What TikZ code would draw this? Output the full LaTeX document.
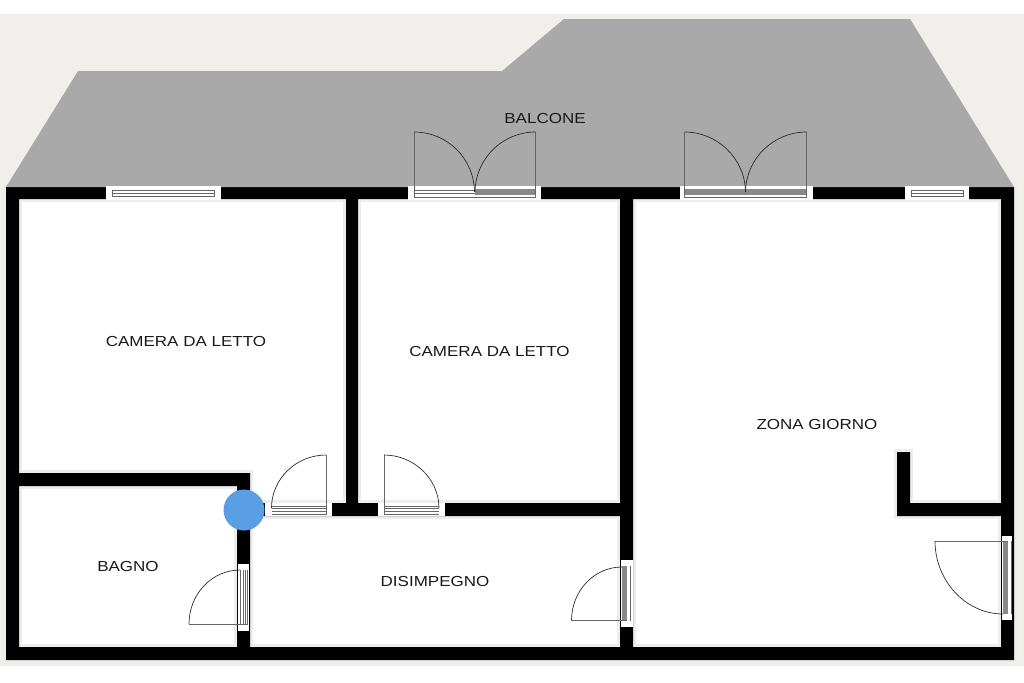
\documentclass[tikz,border=0pt]{standalone}
\usepackage{fontspec}
\setmainfont{Liberation Sans}[FakeStretch=1.17]
\definecolor{plotbg}{HTML}{F0EFEB}
\definecolor{balcony}{HTML}{A9A9A9}
\definecolor{marker}{HTML}{5A9FE3}
\definecolor{frameline}{HTML}{666666}
\definecolor{sash}{HTML}{888888}
\tikzset{
  wall/.style={fill=black,preaction={draw=black!7,line width=4pt}},
  opening/.style={fill=white},
  frame/.style={draw=frameline,line width=0.65pt},
  leaf/.style={draw=black!60,line width=0.6pt},
  swing/.style={draw=black!85,line width=0.5pt},
  room/.style={font=\fontsize{10.9}{12}\selectfont,text=black!90,inner sep=0pt}
}
\begin{document}
\begin{tikzpicture}[x=0.75pt,y=-0.75pt]
\useasboundingbox (0,0) rectangle (1024,682);
\fill[white] (0,0) rectangle (1024,682);
\fill[plotbg] (0,14) rectangle (1024,666);
\fill[white] (6,187) rectangle (1014,660);
% walls
\path[wall] (6,187) rectangle (1014,199)
  (6,187) rectangle (19,660)
  (1001,187) rectangle (1014,660)
  (6,647) rectangle (1014,660)
  (346,199) rectangle (358,510)
  (620,199) rectangle (633,647)
  (237,503) rectangle (620,516)
  (19,473) rectangle (249,486)
  (237,473) rectangle (250,647)
  (897,452) rectangle (910,516)
  (897,503) rectangle (1001,516);
\fill[balcony] (6,187) -- (78,71) -- (502,71) -- (564,19) -- (910,19) -- (1014,187) -- cycle;
% top windows
\fill[opening] (106,186) rectangle (221,199.5);
\draw[frame] (112,190.5) -- (214,190.5) (112,196.5) -- (214,196.5) (112,190) -- (112,197) (214,190) -- (214,197);
\draw[leaf] (112,193) -- (214,193);
\fill[opening] (905,186) rectangle (969,199.5);
\draw[frame] (911,190.5) -- (963,190.5) (911,196.5) -- (963,196.5) (911,190) -- (911,197) (963,190) -- (963,197);
\draw[leaf] (911,193) -- (963,193);
% balcony doors
\fill[opening] (408,186) rectangle (541,199.5);
\fill[sash] (475,188.5) rectangle (535,194.5);
\draw[frame] (414,190) -- (475,190) (414,193.5) -- (475,193.5) (414,197) -- (535,197);
\draw[leaf] (414,132) -- (414,198) (535.5,132) -- (535.5,198);
\draw[swing] (414,132) .. controls (447,132) and (474,158) .. (474.5,192);
\draw[swing] (535.5,132) .. controls (503,132) and (475.5,158) .. (475,192);
\fill[opening] (680,186) rectangle (813,199.5);
\fill[sash] (685,188.5) rectangle (806,194.5);
\draw[frame] (685,197) -- (806,197);
\draw[leaf] (684.5,132) -- (684.5,198) (806.5,132) -- (806.5,198);
\draw[swing] (684.5,132) .. controls (717,132) and (745,158) .. (745.5,192);
\draw[swing] (806.5,132) .. controls (774,132) and (746,158) .. (745.5,192);
% doors of the corridor
\fill[opening] (265,503) rectangle (332,516);
\draw[frame] (272,506) -- (327,506) (272,508.5) -- (327,508.5) (272,511.5) -- (327,511.5) (272,514) -- (327,514);
\draw[leaf] (326,455) -- (326,514);
\draw[swing] (326,455) .. controls (296,455) and (271.5,479) .. (271.5,508);
\fill[opening] (378,503) rectangle (445,516);
\draw[frame] (384,506) -- (439,506) (384,508.5) -- (439,508.5) (384,511.5) -- (439,511.5) (384,514) -- (439,514);
\draw[leaf] (384,455) -- (384,514);
\draw[swing] (384,455) .. controls (414,455) and (439,479) .. (439,508);
\fill[opening] (238,564) rectangle (249,631);
\draw[frame] (240.5,570) -- (240.5,625) (243,570) -- (243,625) (245,570) -- (245,625) (247.5,570) -- (247.5,625);
\draw[leaf] (189,624) -- (247,624);
\draw[swing] (189,624) .. controls (189,594) and (212,570) .. (240,570);
\fill[opening] (620.5,560) rectangle (632.5,627);
\fill[sash] (622,566) rectangle (627,621);
\draw[frame] (630.5,566) -- (630.5,621);
\draw[leaf] (571.5,620.5) -- (627,620.5);
\draw[swing] (571.5,620.5) .. controls (571.5,591) and (594,567) .. (622,567);
\fill[opening] (1002,536) rectangle (1012,620);
\fill[sash] (1003,541) rectangle (1008,614);
\draw[frame] (1011,541) -- (1011,614);
\draw[leaf] (935,541) -- (1008,541);
\draw[swing] (935,541) .. controls (935,581) and (966,614) .. (1003,614);
\node[circle,fill=marker,minimum size=30.75pt,inner sep=0pt] (pin) at (244,510) {};
\node[room] (balcone) at (545,118) {BALCONE};
\node[room] (letto1) at (186,341) {CAMERA DA LETTO};
\node[room] (letto2) at (489.5,351) {CAMERA DA LETTO};
\node[room] (giorno) at (817,424) {ZONA GIORNO};
\node[room] (bagno) at (128,566) {BAGNO};
\node[room] (disimpegno) at (435,581) {DISIMPEGNO};
\end{tikzpicture}
\end{document}
